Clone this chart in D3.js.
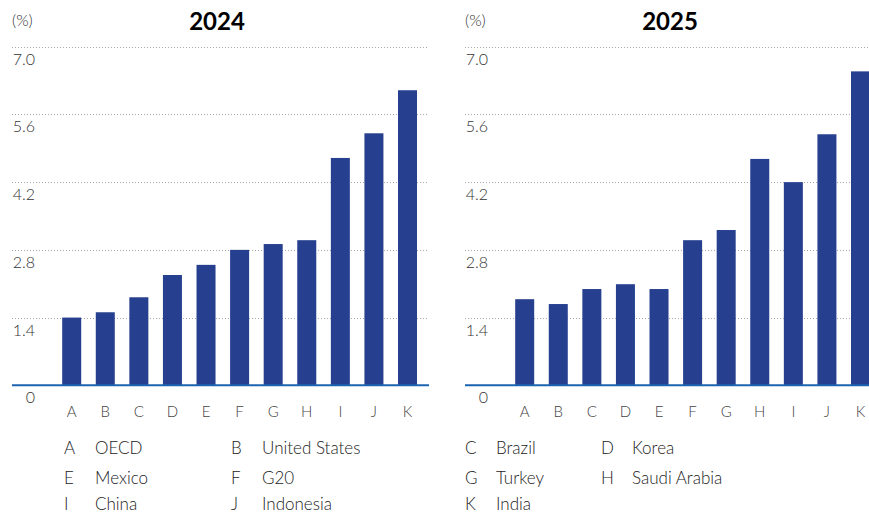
<!DOCTYPE html>
<html>
<head>
<meta charset="utf-8">
<script src="https://cdn.jsdelivr.net/npm/d3@7"></script>
<style>
  body { margin: 0; background: #fff; }
  svg { display: block; font-family: Lato, "Noto Sans", sans-serif; }
  .light { font-weight: 300; }
</style>
</head>
<body>
<svg id="chart" width="869" height="515"></svg>
<script>
// categories and values
const codes = ['A', 'B', 'C', 'D', 'E', 'F', 'G', 'H', 'I', 'J', 'K'];
const names = ['OECD', 'United States', 'Brazil', 'Korea', 'Mexico', 'G20',
  'Turkey', 'Saudi Arabia', 'China', 'Indonesia', 'India'];
const values2024 = [1.40, 1.51, 1.82, 2.28, 2.49, 2.80, 2.92, 3.00, 4.70, 5.21, 6.10];
const values2025 = [1.78, 1.68, 1.99, 2.09, 1.99, 3.00, 3.21, 4.68, 4.20, 5.19, 6.49];
const yTicks = [0, 1.4, 2.8, 4.2, 5.6, 7.0];
const panels = [
  { title: '2024', values: values2024, offset: 0 },
  { title: '2025', values: values2025, offset: 453 }
];

const svg = d3.select('#chart');
const barColor = '#26408f';

const y = d3.scaleLinear().domain([0, 7]).range([385.3, 46.7]);

panels.forEach(p => {
  const g = svg.append('g').attr('transform', `translate(${p.offset},0)`);

  const x = d3.scaleBand()
    .domain(codes)
    .range([54.9, 424.3])
    .paddingInner(0.434)
    .paddingOuter(0.217);

  // dotted gridlines
  g.selectAll('.grid')
    .data(yTicks.filter(t => t > 0))
    .enter()
    .append('line')
    .attr('class', 'grid')
    .attr('x1', 12)
    .attr('x2', 429)
    .attr('y1', d => Math.round(y(d)) + 0.5)
    .attr('y2', d => Math.round(y(d)) + 0.5)
    .attr('stroke', '#a8a8a8')
    .attr('stroke-width', 1)
    .attr('stroke-dasharray', '1,2');

  // y tick labels sit below their gridline
  g.selectAll('.ylab')
    .data(yTicks)
    .enter()
    .append('text')
    .attr('class', 'light')
    .attr('x', 35)
    .attr('y', d => y(d) + 14)
    .attr('text-anchor', 'end')
    .attr('dominant-baseline', 'middle')
    .attr('font-size', 16)
    .attr('fill', '#333')
    .text(d => d === 0 ? '0' : d.toFixed(1));

  // bars
  g.selectAll('.bar')
    .data(p.values)
    .enter()
    .append('rect')
    .attr('class', 'bar')
    .attr('x', (d, i) => x(codes[i]))
    .attr('width', x.bandwidth())
    .attr('y', d => y(d))
    .attr('height', d => y(0) - y(d))
    .attr('fill', barColor);

  // baseline
  g.append('line')
    .attr('x1', 12)
    .attr('x2', 429)
    .attr('y1', y(0))
    .attr('y2', y(0))
    .attr('stroke', '#1c63b0')
    .attr('stroke-width', 2);

  // x labels
  g.selectAll('.xlab')
    .data(codes)
    .enter()
    .append('text')
    .attr('class', 'light')
    .attr('x', d => x(d) + x.bandwidth() / 2)
    .attr('y', 413)
    .attr('text-anchor', 'middle')
    .attr('dominant-baseline', 'middle')
    .attr('font-size', 15)
    .attr('fill', '#444')
    .text(d => d);

  // unit + title
  g.append('text')
    .attr('class', 'light')
    .attr('x', 12)
    .attr('y', 22)
    .attr('dominant-baseline', 'middle')
    .attr('font-size', 16)
    .attr('fill', '#333')
    .text('(%)');

  g.append('text')
    .attr('x', 217)
    .attr('y', 24)
    .attr('text-anchor', 'middle')
    .attr('dominant-baseline', 'middle')
    .attr('font-size', 24)
    .attr('font-weight', 'bold')
    .attr('fill', '#000')
    .text(p.title);
});

// legend: 4 columns, 3 rows
const legendCols = [64, 231, 465, 601];
const legendRows = [450, 480, 506];
const legend = svg.append('g');
codes.forEach((c, i) => {
  const col = i % 4, row = Math.floor(i / 4);
  const item = legend.append('g')
    .attr('transform', `translate(${legendCols[col]},${legendRows[row]})`);
  item.append('text')
    .attr('class', 'light')
    .attr('x', 0)
    .attr('dominant-baseline', 'middle')
    .attr('font-size', 17)
    .attr('fill', '#222')
    .text(c);
  item.append('text')
    .attr('class', 'light')
    .attr('x', 31)
    .attr('dominant-baseline', 'middle')
    .attr('font-size', 17)
    .attr('fill', '#222')
    .text(names[i]);
});
</script>
</body>
</html>
